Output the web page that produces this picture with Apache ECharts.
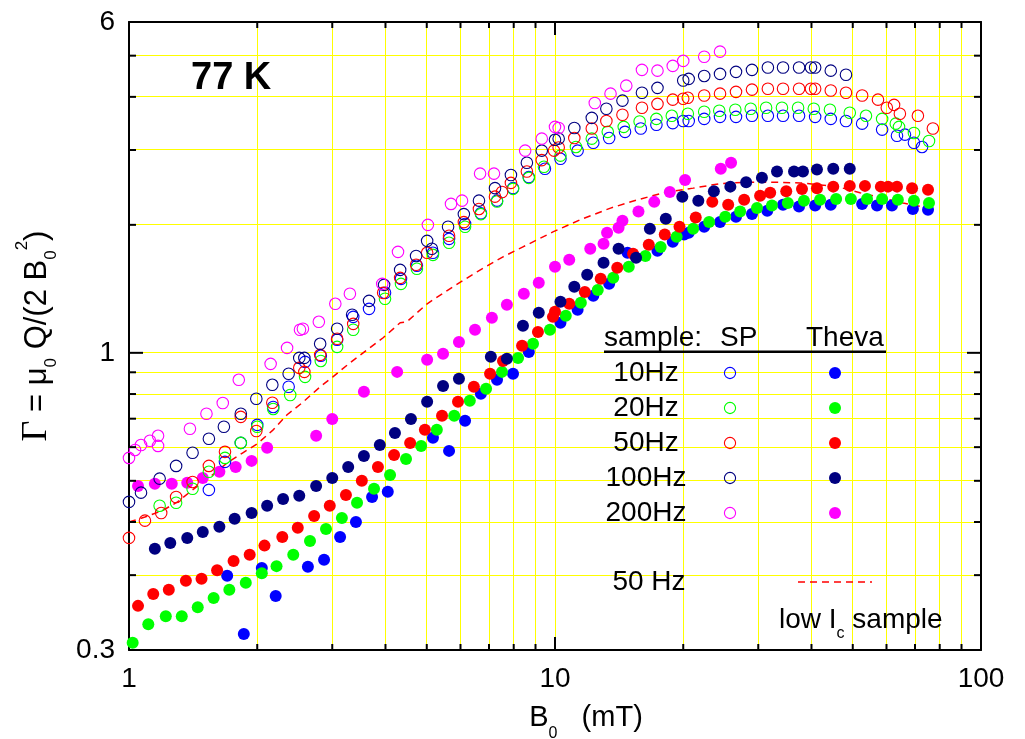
<!DOCTYPE html>
<html>
<head>
<meta charset="utf-8">
<script src="https://cdn.jsdelivr.net/npm/echarts@6.0.0/dist/echarts.min.js"></script>
<style>
  html, body { margin: 0; padding: 0; background: #fff; }
  #chart { width: 1025px; height: 739px; }
</style>
</head>
<body>
<div id="chart"></div>
<script>
// axis ranges and tick positions (B0 in mT, Gamma dimensionless)
const xRange = [1, 100];
const yRange = [0.2, 6];
const xMinorTicks = [2, 3, 4, 5, 6, 7, 8, 9, 20, 30, 40, 50, 60, 70, 80, 90];
const xMajorTicks = [10];
const yMinorTicks = [0.3, 0.4, 0.5, 0.6, 0.7, 0.8, 0.9, 2, 3, 4, 5];
const yMajorTicks = [1];
const yLabelAt = [0.2, 1, 6];
const yLabelText = ["0.3", "1", "6"];

// SP sample (open circles)
const sp10 = [[1.54,0.476],[1.68,0.554],[1.83,0.614],[2.00,0.677],[2.18,0.746],[2.37,0.832],[2.59,0.952],[2.82,0.984],[3.08,1.073],[3.36,1.215],[3.66,1.269],[3.99,1.384],[4.35,1.493],[4.74,1.602],[5.17,1.719],[5.64,1.854],[6.15,2.01],[6.70,2.13],[7.31,2.28],[7.97,2.44],[8.68,2.59],[9.47,2.71],[10.3,2.86],[11.3,2.99],[12.3,3.12],[13.4,3.20],[14.6,3.31],[15.9,3.37],[17.3,3.44],[18.9,3.47],[20.0,3.51],[20.6,3.51],[22.4,3.55],[24.4,3.59],[26.6,3.59],[29.0,3.61],[31.6,3.61],[34.3,3.61],[37.4,3.61],[40.8,3.59],[44.4,3.55],[48.2,3.51],[52.6,3.46],[58.6,3.35],[63.5,3.24],[66.3,3.26],[69.6,3.12],[72.7,3.05]];
const sp20 = [[1.18,0.437],[1.29,0.444],[1.41,0.479],[1.54,0.525],[1.68,0.566],[1.83,0.614],[2.00,0.670],[2.18,0.738],[2.39,0.796],[2.59,0.878],[2.82,0.957],[3.08,1.033],[3.36,1.133],[3.99,1.34],[4.35,1.453],[4.74,1.577],[5.17,1.70],[5.64,1.815],[6.15,1.98],[6.70,2.12],[7.31,2.27],[7.97,2.43],[8.68,2.58],[9.42,2.74],[10.3,2.91],[11.2,3.05],[12.2,3.19],[13.3,3.31],[14.5,3.40],[15.8,3.50],[17.3,3.55],[18.8,3.61],[20.5,3.65],[22.4,3.69],[24.3,3.71],[26.5,3.73],[28.8,3.75],[31.3,3.77],[34.1,3.77],[37.2,3.77],[40.5,3.75],[44.2,3.73],[49.2,3.67],[53.7,3.61],[58.6,3.55],[63.1,3.46],[64.2,3.40],[69.6,3.29],[75.5,3.15]];
const sp50 = [[1.0,0.367],[1.09,0.403],[1.19,0.420],[1.29,0.458],[1.41,0.497],[1.54,0.542],[1.68,0.585],[1.83,0.707],[1.99,0.655],[2.17,0.763],[2.51,0.922],[2.58,0.902],[2.81,0.989],[3.08,1.079],[3.36,1.170],[3.95,1.384],[4.33,1.501],[4.72,1.611],[5.01,1.719],[5.64,1.885],[6.11,2.03],[6.63,2.18],[7.23,2.33],[7.51,2.39],[7.88,2.51],[8.59,2.67],[9.31,2.84],[9.95,2.99],[10.2,3.04],[11.1,3.20],[12.2,3.37],[13.2,3.51],[14.4,3.63],[16.0,3.77],[17.4,3.85],[18.9,3.94],[20.0,3.96],[20.5,3.98],[22.4,4.03],[24.4,4.07],[26.6,4.11],[29.0,4.16],[31.6,4.18],[34.3,4.18],[37.4,4.18],[39.9,4.18],[40.8,4.18],[44.4,4.14],[48.2,4.09],[52.6,4.03],[57.3,3.94],[60.1,3.77],[62.5,3.83],[64.5,3.65],[71.1,3.61],[77.1,3.37]];
const sp100 = [[1.0,0.446],[1.067,0.469],[1.18,0.506],[1.29,0.542],[1.41,0.582],[1.54,0.628],[1.67,0.670],[1.83,0.719],[1.99,0.780],[2.17,0.841],[2.37,0.893],[2.51,0.973],[2.58,0.973],[2.81,1.05],[3.08,1.139],[3.34,1.229],[3.66,1.325],[3.97,1.445],[4.33,1.567],[4.72,1.69],[5.01,1.834],[5.14,1.757],[5.61,1.98],[6.11,2.12],[6.63,2.28],[7.23,2.44],[7.88,2.62],[8.59,2.80],[9.31,2.99],[10.0,3.17],[10.2,3.19],[11.1,3.38],[12.2,3.57],[13.2,3.75],[14.4,3.92],[16.0,4.09],[17.4,4.20],[20.0,4.37],[20.6,4.41],[22.4,4.48],[24.4,4.53],[26.6,4.58],[29.0,4.63],[31.6,4.69],[34.3,4.69],[37.4,4.69],[39.9,4.69],[40.8,4.69],[44.4,4.61],[48.2,4.51]];
const sp200 = [[1.0,0.566],[1.033,0.591],[1.067,0.607],[1.12,0.621],[1.17,0.638],[1.17,0.604],[1.39,0.663],[1.52,0.719],[1.66,0.762],[1.81,0.864],[2.15,0.942],[2.35,1.027],[2.52,1.133],[2.56,1.139],[2.79,1.183],[3.05,1.304],[3.30,1.377],[3.93,1.453],[4.28,1.728],[5.03,2.0],[5.70,2.24],[6.05,2.28],[6.67,2.64],[7.19,2.64],[8.51,2.99],[9.31,3.19],[10.0,3.40],[10.2,3.38],[12.4,3.87],[13.5,4.07],[14.7,4.25],[16.0,4.63],[17.4,4.61],[18.9,4.73],[20.0,4.86],[22.4,4.97],[24.4,5.11]];

// Theva sample (filled dots)
const th10 = [[1.70,0.299],[1.86,0.218],[2.05,0.312],[2.21,0.268],[2.63,0.314],[2.87,0.326],[3.13,0.369],[3.41,0.400],[3.72,0.458],[4.05,0.471],[5.17,0.631],[5.64,0.588],[6.15,0.692],[6.70,0.801],[7.31,0.864],[7.97,0.893],[8.68,1.005],[10.3,1.177],[11.3,1.262],[12.3,1.362],[13.4,1.453],[14.8,1.719],[17.4,1.738],[18.9,1.824],[20.1,1.897],[20.6,1.915],[22.4,1.98],[24.4,2.03],[26.6,2.09],[29.0,2.12],[31.5,2.16],[34.3,2.23],[37.4,2.21],[40.8,2.22],[44.4,2.23],[52.6,2.24],[57.0,2.22],[61.8,2.22],[69.2,2.18],[75.1,2.17]];
const th20 = [[1.02,0.208],[1.11,0.230],[1.22,0.240],[1.33,0.240],[1.45,0.252],[1.58,0.265],[1.72,0.277],[1.88,0.288],[2.05,0.303],[2.22,0.315],[2.43,0.335],[2.66,0.361],[2.90,0.385],[3.16,0.409],[3.43,0.444],[3.76,0.479],[4.10,0.516],[4.47,0.563],[4.85,0.604],[5.28,0.659],[5.80,0.711],[6.31,0.771],[6.89,0.823],[7.51,0.902],[8.19,0.973],[8.88,1.05],[9.73,1.133],[10.6,1.222],[11.5,1.311],[12.6,1.406],[13.7,1.501],[14.9,1.593],[16.3,1.69],[17.7,1.775],[19.3,1.875],[21.1,1.958],[23.0,2.03],[25.1,2.09],[27.2,2.15],[29.8,2.19],[32.3,2.22],[35.2,2.25],[38.4,2.28],[41.9,2.29],[45.7,2.30],[49.5,2.30],[54.0,2.30],[58.6,2.30],[63.8,2.29],[69.6,2.28],[75.5,2.25]];
const th50 = [[1.05,0.254],[1.14,0.271],[1.24,0.277],[1.36,0.291],[1.48,0.294],[1.61,0.308],[1.76,0.324],[1.92,0.335],[2.08,0.352],[2.29,0.369],[2.49,0.388],[2.72,0.413],[2.96,0.437],[3.23,0.463],[3.52,0.500],[3.84,0.539],[4.19,0.575],[4.57,0.614],[4.95,0.659],[5.43,0.711],[5.92,0.767],[6.45,0.832],[7.04,0.893],[7.55,0.957],[8.37,1.039],[9.12,1.12],[9.89,1.215],[10.0,1.249],[10.8,1.304],[11.75,1.391],[12.8,1.493],[14.0,1.585],[15.25,1.71],[16.6,1.795],[18.1,1.897],[19.6,1.98],[21.4,2.08],[23.4,2.265],[25.5,2.23],[27.8,2.29],[30.3,2.34],[32.0,2.38],[34.9,2.40],[38.0,2.43],[41.2,2.44],[45.0,2.46],[49.2,2.47],[53.4,2.47],[58.2,2.46],[60.5,2.46],[63.5,2.46],[68.9,2.44],[75.1,2.42]];
const th100 = [[1.15,0.346],[1.25,0.357],[1.37,0.367],[1.49,0.379],[1.63,0.390],[1.77,0.407],[1.94,0.420],[2.11,0.437],[2.30,0.453],[2.51,0.461],[2.75,0.486],[3.00,0.508],[3.27,0.539],[3.56,0.572],[3.88,0.607],[4.21,0.648],[4.59,0.699],[5.01,0.767],[5.46,0.836],[5.95,0.869],[7.07,0.979],[7.71,0.968],[8.41,1.158],[9.16,1.242],[10.3,1.318],[11.1,1.43],[11.9,1.526],[13.0,1.629],[14.1,1.757],[15.5,1.673],[16.7,1.958],[18.2,2.066],[19.9,2.33],[21.7,2.28],[23.6,2.40],[25.8,2.46],[28.1,2.52],[30.6,2.58],[33.2,2.67],[36.4,2.67],[38.2,2.67],[41.2,2.70],[45.0,2.71],[49.2,2.71]];
const th200 = [[1.05,0.486],[1.15,0.492],[1.26,0.492],[1.37,0.495],[1.49,0.508],[1.63,0.525],[1.78,0.539],[1.94,0.557],[2.11,0.598],[2.75,0.638],[3.00,0.699],[3.56,0.810],[4.26,0.902],[5.01,0.963],[5.46,0.995],[5.95,1.061],[6.49,1.133],[7.11,1.209],[7.71,1.297],[8.45,1.377],[9.16,1.462],[10.0,1.594],[10.8,1.655],[12.1,1.757],[13.0,1.805],[13.25,1.915],[14.1,1.968],[14.4,2.045],[15.7,2.15],[17.1,2.265],[18.6,2.39],[20.2,2.55],[24.5,2.71],[25.9,2.80]];

// low Ic sample, 50 Hz (dashed line)
const lowIc50 = [[1.0,0.400],[1.09,0.411],[1.195,0.425],[1.30,0.446],[1.41,0.476],[1.55,0.511],[1.70,0.551],[1.85,0.582],[2.00,0.611],[2.18,0.659],[2.35,0.715],[2.55,0.763],[2.81,0.832],[3.01,0.878],[3.30,0.947],[3.62,1.016],[3.95,1.085],[4.33,1.177],[4.49,1.183],[5.01,1.304],[5.76,1.43],[6.56,1.551],[7.55,1.682],[8.41,1.775],[9.89,1.925],[11.45,2.055],[13.5,2.19],[15.6,2.29],[18.3,2.39],[21.1,2.44],[24.4,2.50],[28.2,2.52],[32.5,2.52],[37.6,2.51],[42.6,2.48],[47.4,2.44],[52.0,2.38],[57.9,2.32],[65.6,2.25],[75.9,2.19]];

const freqLabels = ["10Hz", "20Hz", "50Hz", "100Hz", "200Hz"];
const colors = ["#0000ff", "#00ff00", "#ff0000", "#000080", "#ff00ff"];

const FONT = "Liberation Sans, Arial, sans-serif";
const chart = echarts.init(document.getElementById("chart"));

const openSeries = [sp10, sp20, sp50, sp100, sp200].map((d, i) => ({
  name: "SP " + freqLabels[i],
  type: "scatter",
  data: d,
  symbol: "circle",
  symbolSize: 11.5,
  itemStyle: { color: "rgba(0,0,0,0)", borderColor: colors[i], borderWidth: 1.1, opacity: 1 },
  z: 5,
}));
const filledSeries = [th10, th20, th50, th100, th200].map((d, i) => ({
  name: "Theva " + freqLabels[i],
  type: "scatter",
  data: d,
  symbol: "circle",
  symbolSize: 12,
  itemStyle: { color: colors[i], opacity: 1 },
  z: 4,
}));

// grid lines (1px filled rects) and inward ticks, placed through the axes' scales
function vLine(isGrid) {
  return function (params, api) {
    const v = api.value(0);
    const len = api.value(2);
    const b = api.coord([v, yRange[0]]);
    const t = api.coord([v, yRange[1]]);
    if (isGrid) {
      return { type: "rect", shape: { x: Math.round(b[0] - 0.5), y: t[1], width: 1, height: b[1] - t[1] }, style: { fill: "#ffff00" } };
    }
    return {
      type: "group",
      children: [
        { type: "line", shape: { x1: b[0], y1: b[1], x2: b[0], y2: b[1] - len }, style: { stroke: "#000", lineWidth: 2 } },
        { type: "line", shape: { x1: t[0], y1: t[1], x2: t[0], y2: t[1] + len }, style: { stroke: "#000", lineWidth: 2 } },
      ],
    };
  };
}
function hLine(isGrid) {
  return function (params, api) {
    const v = api.value(1);
    const len = api.value(2);
    const l = api.coord([xRange[0], v]);
    const r = api.coord([xRange[1], v]);
    if (isGrid) {
      return { type: "rect", shape: { x: l[0], y: Math.round(l[1] - 0.5), width: r[0] - l[0], height: 1 }, style: { fill: "#ffff00" } };
    }
    return {
      type: "group",
      children: [
        { type: "line", shape: { x1: l[0], y1: l[1], x2: l[0] + len, y2: l[1] }, style: { stroke: "#000", lineWidth: 2 } },
        { type: "line", shape: { x1: r[0], y1: r[1], x2: r[0] - len, y2: r[1] }, style: { stroke: "#000", lineWidth: 2 } },
      ],
    };
  };
}
const xTickData = xMinorTicks.map((v) => [v, 1, 6]).concat(xMajorTicks.map((v) => [v, 1, 13]));
const yTickData = yMinorTicks.map((v) => [1, v, 7]).concat(yMajorTicks.map((v) => [1, v, 14]));

const helperSeries = [
  { type: "custom", name: "xgrid", data: xTickData, renderItem: vLine(true), z: 1, silent: true, clip: false },
  { type: "custom", name: "ygrid", data: yTickData, renderItem: hLine(true), z: 1, silent: true, clip: false },
  { type: "custom", name: "xticks", data: xTickData, renderItem: vLine(false), z: 10, silent: true, clip: false },
  { type: "custom", name: "yticks", data: yTickData, renderItem: hLine(false), z: 10, silent: true, clip: false },
];

const axisCommon = {
  type: "log",
  logBase: 10,
  axisLine: { show: true, onZero: false, lineStyle: { color: "#000", width: 2 } },
  axisTick: { show: false },
  splitLine: { show: false },
  minorTick: { show: false },
};

const option = {
  animation: false,
  backgroundColor: "#fff",
  grid: { left: 129, right: 44, top: 22, bottom: 89, containLabel: false, outerBoundsMode: "none" },
  xAxis: [
    Object.assign({}, axisCommon, {
      min: xRange[0], max: xRange[1], position: "bottom",
      axisLabel: { fontSize: 28, color: "#000", fontFamily: FONT, margin: 15, showMinLabel: true, showMaxLabel: true },
      name: "{m|B}{sub|0}{m|   (mT)}",
      nameLocation: "middle",
      nameGap: 44,
      nameTextStyle: {
        padding: [0, 0, 0, 62],
        rich: {
          m: { fontSize: 29, fontFamily: FONT, color: "#000", lineHeight: 48 },
          sub: { fontSize: 16, fontFamily: FONT, color: "#000", lineHeight: 16, verticalAlign: "bottom" },
        },
      },
    }),
    Object.assign({}, axisCommon, { min: xRange[0], max: xRange[1], position: "top", axisLabel: { show: false } }),
  ],
  yAxis: [
    Object.assign({}, axisCommon, {
      min: yRange[0], max: yRange[1], position: "left",
      axisLabel: {
        fontSize: 28, color: "#000", fontFamily: FONT, margin: 14, showMinLabel: true, showMaxLabel: true,
        formatter: function (v) {
          let best = 0;
          for (let i = 1; i < yLabelAt.length; i++) {
            if (Math.abs(Math.log(v / yLabelAt[i])) < Math.abs(Math.log(v / yLabelAt[best]))) best = i;
          }
          return yLabelText[best];
        },
      },
      name: "{g|Γ}{m| = μ}{sub|0}{m| Q/(2 B}{sub|0}{sup|2}{m|)}",
      nameLocation: "middle",
      nameRotate: 90,
      nameGap: 69,
      nameTextStyle: {
        rich: {
          g: { fontSize: 36, fontFamily: "Liberation Serif, Times New Roman, serif", color: "#000", lineHeight: 46 },
          m: { fontSize: 31, fontFamily: FONT, color: "#000", lineHeight: 46 },
          sub: { fontSize: 17, fontFamily: FONT, color: "#000", lineHeight: 17, verticalAlign: "bottom" },
          sup: { fontSize: 17, fontFamily: FONT, color: "#000", lineHeight: 17, verticalAlign: "top" },
        },
      },
    }),
    Object.assign({}, axisCommon, { min: yRange[0], max: yRange[1], position: "right", axisLabel: { show: false } }),
  ],
  series: helperSeries.concat([
    {
      name: "low Ic 50 Hz",
      type: "line",
      data: lowIc50,
      showSymbol: false,
      symbol: "none",
      lineStyle: { color: "#ff0000", width: 1.5, type: [7, 5] },
      z: 3,
    },
  ]).concat(openSeries).concat(filledSeries),
  graphic: buildGraphic(),
};

function buildGraphic() {
  const g = [];
  const txt = (x, y, text, size, align) =>
    ({ type: "text", x: x, y: y, z: 100, style: { text: text, fontSize: size, fontFamily: FONT, fill: "#000", align: align || "left", verticalAlign: "middle" } });
  g.push({ type: "text", x: 191, y: 79, z: 100, style: { text: "77 K", fontSize: 38, fontWeight: "bold", fontFamily: FONT, fill: "#000", align: "left", verticalAlign: "middle" } });
  g.push(txt(604, 338, "sample:", 28));
  g.push(txt(720, 338, "SP", 28));
  g.push(txt(806, 338, "Theva", 28));
  g.push({ type: "rect", z: 100, shape: { x: 604, y: 350.5, width: 282, height: 2.5 }, style: { fill: "#000" } });
  const rowY = [373, 408, 443, 478, 513];
  freqLabels.forEach((f, i) => {
    g.push(txt(646, rowY[i], f, 28, "center"));
    g.push({ type: "circle", z: 100, shape: { cx: 730, cy: rowY[i], r: 5.6 }, style: { fill: "none", stroke: colors[i], lineWidth: 1.1 } });
    g.push({ type: "circle", z: 100, shape: { cx: 835, cy: rowY[i], r: 6 }, style: { fill: colors[i] } });
  });
  g.push(txt(649, 582, "50 Hz", 28, "center"));
  g.push({ type: "line", z: 100, shape: { x1: 798, y1: 582, x2: 872, y2: 582 }, style: { stroke: "#ff0000", lineWidth: 1.5, lineDash: [7, 5] } });
  g.push({
    type: "text", x: 779, y: 620, z: 100,
    style: {
      text: "{m|low I}{s|c}{m| sample}",
      align: "left", verticalAlign: "middle",
      rich: {
        m: { fontSize: 28, fontFamily: FONT, fill: "#000", color: "#000", lineHeight: 44 },
        s: { fontSize: 16, fontFamily: FONT, fill: "#000", color: "#000", lineHeight: 16, verticalAlign: "bottom" },
      },
    },
  });
  return g;
}

chart.setOption(option);
</script>
</body>
</html>
